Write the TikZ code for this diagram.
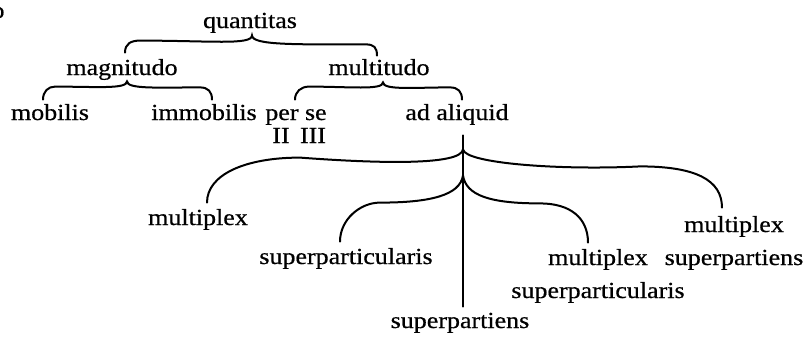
\documentclass[tikz,border=0pt]{standalone}
\usepackage{fontspec}
\setmainfont{Liberation Serif}[FakeStretch=1.13,FakeBold=0.6]

\begin{document}
\begin{tikzpicture}[
    x=0.5pt, y=-0.5pt,
    term/.style={inner sep=0pt, anchor=base, text height=8pt, text depth=2.5pt,
                 font=\fontsize{11.5}{16.5}\selectfont},
    pair/.style={inner sep=0pt, anchor=base, align=center,
                 font=\fontsize{11.5}{16.5}\selectfont},
    brace/.style={line width=1pt, line cap=round}
  ]
  \useasboundingbox (0,0) rectangle (810,338);

  % Nodes
  \node[term] (stray)   at (-2,18)   {o};
  \node[term] (quant)   at (250,28)  {quantitas};
  \node[term] (mag)     at (122,75)  {magnitudo};
  \node[term] (multi)   at (379,75)  {multitudo};
  \node[term] (mobilis) at (50,120)  {mobilis};
  \node[term] (immob)   at (204,120) {immobilis};
  \node[term] (perse)   at (296,120) {per se};
  \node[term] (adal)    at (457,120) {ad aliquid};
  \node[term] (two)     at (281,143) {II};
  \node[term] (three)   at (313,143) {III};
  \node[term] (multL)   at (198,225) {multiplex};
  \node[term] (spL)     at (346,264) {superparticularis};
  \node[pair] (mpsp)    at (598,298) {multiplex\\superparticularis};
  \node[pair] (mpspR)   at (734,265) {multiplex\\superpartiens};
  \node[term] (spbot)   at (460,328) {superpartiens};

  % Brace tips
  \coordinate (quant-tip) at ([xshift=1pt,yshift=-1pt]quant.south);
  \coordinate (mag-tip)   at ([xshift=2.5pt,yshift=-0.5pt]mag.south);
  \coordinate (multi-tip) at ([xshift=2pt,yshift=-1pt]multi.south);
  \coordinate (stem)      at ([xshift=3pt,yshift=-5pt]adal.south);
  \coordinate (tip-a)     at ([yshift=-7pt]stem);
  \coordinate (tip-b)     at ([yshift=-20pt]stem);

  % quantitas -> magnitudo / multitudo
  \draw[brace] ([xshift=1.5pt,yshift=3pt]mag.north)
    .. controls +(0,-9) and +(-9,0) .. ++(15,-12)
    .. controls +(70,0) and +(0,10) .. (quant-tip)
    .. controls +(0,10) and +(-70,0) .. ++(114,9)
    .. controls +(8,0) and +(0,-8) .. ([xshift=-1pt,yshift=1.5pt]multi.north);

  % magnitudo -> mobilis / immobilis
  \draw[brace] ([xshift=-3.5pt,yshift=2pt]mobilis.north)
    .. controls +(0,-8) and +(-7,0) .. ++(12,-13)
    .. controls +(40,0) and +(0,8) .. (mag-tip)
    .. controls +(0,8) and +(-40,0) .. ++(73,6)
    .. controls +(8,0) and +(0,-8) .. ([xshift=4pt,yshift=2pt]immob.north);

  % multitudo -> per se / ad aliquid
  \draw[brace] ([xshift=-0.5pt,yshift=2pt]perse.north)
    .. controls +(0,-8) and +(-8,0) .. ++(14,-13)
    .. controls +(40,0) and +(0,8) .. (multi-tip)
    .. controls +(0,8) and +(-35,0) .. ++(67,5)
    .. controls +(8,0) and +(0,-8) .. ([xshift=2.5pt,yshift=2pt]adal.north);

  % ad aliquid -> superpartiens (stem)
  \draw[brace] (stem) -- ([xshift=1.5pt,yshift=2.5pt]spbot.north);

  % ad aliquid -> multiplex / multiplex superpartiens
  \draw[brace] ([xshift=4.5pt,yshift=3pt]multL.north)
    .. controls +(0,-28) and +(-55,0) .. ++(93,-45)
    .. controls +(80,6) and +(-2,16) .. (tip-a)
    .. controls +(2,14) and +(-80,4) .. ++(177,17)
    .. controls +(55,0) and +(0,-28) .. ([xshift=-6pt,yshift=4pt]mpspR.north);

  % ad aliquid -> superparticularis / multiplex superparticularis
  \draw[brace] ([xshift=-3pt,yshift=3pt]spL.north)
    .. controls +(0,-22) and +(-20,0) .. ++(40,-39)
    .. controls +(50,0) and +(-3,20) .. (tip-b)
    .. controls +(3,20) and +(-50,0) .. ++(77,28)
    .. controls +(30,0) and +(0,-25) .. ([xshift=-5pt,yshift=3pt]mpsp.north);
\end{tikzpicture}
\end{document}
